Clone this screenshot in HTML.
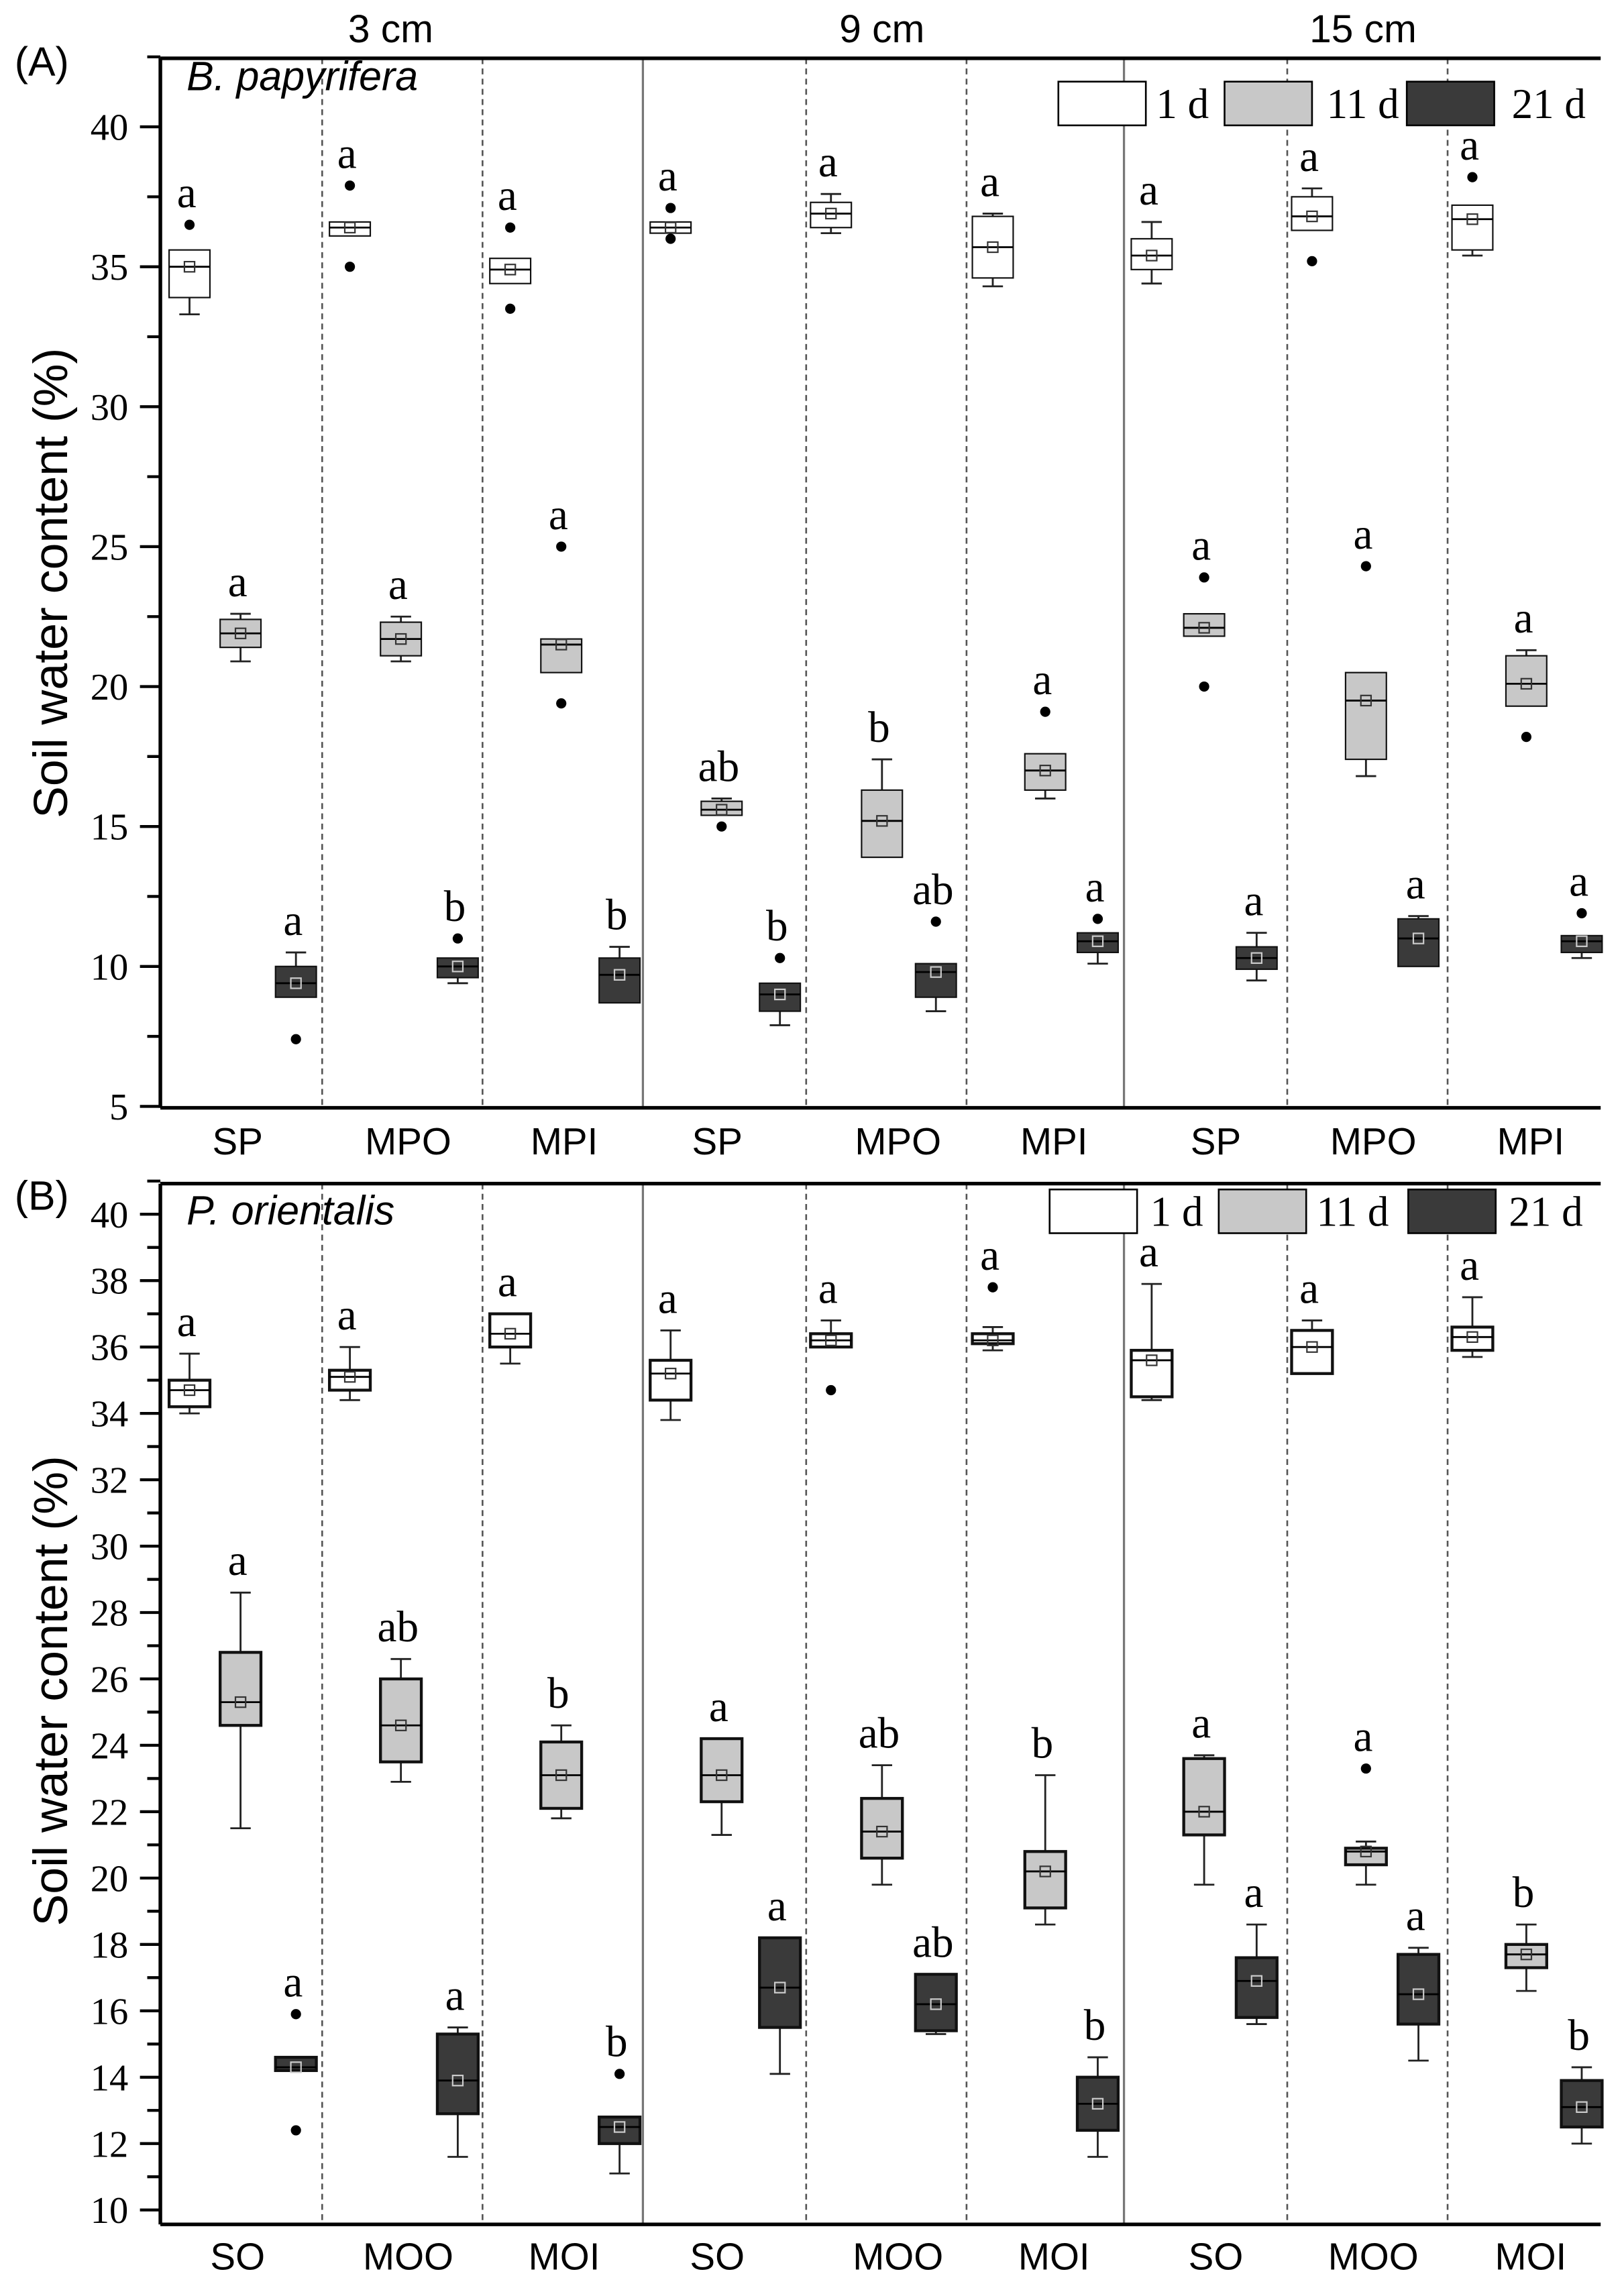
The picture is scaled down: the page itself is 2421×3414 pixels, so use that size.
<!DOCTYPE html>
<html><head><meta charset="utf-8"><style>
html,body{margin:0;padding:0;background:#fff}
svg{display:block}
</style></head><body>
<svg id="s" width="2421" height="3414" viewBox="0 0 1114 1571" preserveAspectRatio="none" xmlns="http://www.w3.org/2000/svg"></svg>
<script>
const S=document.getElementById('s');let h='';
const W='#ffffff',G='#c8c8c8',D='#3a3a3a';
function T(x,y,t,o){h+=`<text x="${x}" y="${y}" ${o||''}>${t}</text>`;}
function L(x1,y1,x2,y2,o){h+=`<line x1="${x1}" y1="${y1}" x2="${x2}" y2="${y2}" ${o||'stroke="#000" stroke-width="1"'}/>`;}
function panel(P){
 const Y=v=>P.y0+(P.vtop-v)*P.k;
 [221,331,553,663,883,993].forEach(x=>L(x,P.top,x,P.bot,'stroke="#555" stroke-width="1.2" stroke-dasharray="4,3"'));
 [441,771].forEach(x=>L(x,P.top,x,P.bot,'stroke="#777" stroke-width="1.5"'));
 L(110,P.top,1098,P.top,'stroke="#000" stroke-width="2.5"');
 L(110,P.top,110,P.bot,'stroke="#000" stroke-width="2.5"');
 L(110,P.bot,1098,P.bot,'stroke="#000" stroke-width="2.5"');
 for(let v=P.vmin;v<=P.vmax+0.01;v+=P.minor){const y=Y(v);const maj=Math.abs((v-P.vmin)/P.major-Math.round((v-P.vmin)/P.major))<1e-6;
  L(maj?96:101,y,110,y,'stroke="#000" stroke-width="2"');
  if(maj)T(88,y+9,v,'font-family="Liberation Serif,serif" font-size="26" text-anchor="end"');}
 P.data.forEach(d=>{const [x,c,q1,q3,m,wl,wh,outs,let_]=d;const w=28;
  let top=Y(q3);
  if(wl!=null){L(x,Y(q1),x,Y(wl),'stroke="#222" stroke-width="1.3"');L(x-7,Y(wl),x+7,Y(wl),'stroke="#222" stroke-width="1.3"');}
  if(wh!=null){L(x,Y(q3),x,Y(wh),'stroke="#222" stroke-width="1.3"');L(x-7,Y(wh),x+7,Y(wh),'stroke="#222" stroke-width="1.3"');top=Math.min(top,Y(wh));}
  h+=`<rect x="${x-w/2}" y="${Y(q3)}" width="${w}" height="${Y(q1)-Y(q3)}" fill="${c}" stroke="#111" stroke-width="${P.sw}"/>`;
  L(x-w/2,Y(m),x+w/2,Y(m),'stroke="#000" stroke-width="1.3"');
  h+=`<rect x="${x-3.5}" y="${Y(m)-3.5}" width="7" height="7" fill="none" stroke="${c==D?'#ccc':'#333'}" stroke-width="1"/>`;
  (outs||[]).forEach(o=>{h+=`<circle cx="${x}" cy="${Y(o)}" r="3.5" fill="#000"/>`;top=Math.min(top,Y(o));});
  T(x-2,top-12,let_,'font-family="Liberation Serif,serif" font-size="30" text-anchor="middle"');
 });
 P.xl.forEach((t,i)=>T([163,280,387,492,616,723,834,942,1050][i],P.xly,t,'font-family="Liberation Sans,sans-serif" font-size="26" text-anchor="middle"'));
 T(10,P.ly,P.lab,'font-family="Liberation Sans,sans-serif" font-size="28"');
 T(128,P.ly+10,P.sp,'font-family="Liberation Sans,sans-serif" font-size="28" font-style="italic"');
 const lg=P.leg;[[W,'1 d'],[G,'11 d'],[D,'21 d']].forEach((e,i)=>{const [bx,tx]=lg.x[i];
  h+=`<rect x="${bx}" y="${lg.y}" width="60" height="${lg.h}" fill="${e[0]}" stroke="#000" stroke-width="1.2"/>`;
  T(tx,lg.y+lg.h-5,e[1],'font-family="Liberation Serif,serif" font-size="29"');});
 h+=`<text transform="translate(${46},${P.yt}) rotate(-90)" text-anchor="middle" font-family="Liberation Sans,sans-serif" font-size="33">Soil water content (%)</text>`;
}
panel({top:40,bot:760,y0:87,vtop:40,k:19.2,vmin:5,vmax:42.5,minor:2.5,major:5,sw:1,xly:792,ly:52,lab:'(A)',sp:'B. papyrifera',yt:400,
 xl:['SP','MPO','MPI','SP','MPO','MPI','SP','MPO','MPI'],
 leg:{y:56,h:30,x:[[726,793],[840,910],[965,1037]]},
 data:[
 [130,W,33.9,35.6,35,33.3,null,[36.5],'a'],[165,G,21.4,22.4,21.9,20.9,22.6,[],'a'],[203,D,8.9,10.0,9.4,null,10.5,[7.4],'a'],
 [240,W,36.1,36.6,36.4,null,null,[37.9,35],'a'],[275,G,21.1,22.3,21.7,20.9,22.5,[],'a'],[314,D,9.6,10.3,10,9.4,null,[11],'b'],
 [350,W,34.4,35.3,34.9,null,null,[36.4,33.5],'a'],[385,G,20.5,21.7,21.5,null,null,[25,19.4],'a'],[425,D,8.7,10.3,9.7,null,10.7,[],'b'],
 [460,W,36.2,36.6,36.4,null,null,[37.1,36.0],'a'],[495,G,15.4,15.9,15.6,null,16,[15],'ab'],[535,D,8.4,9.4,9.0,7.9,null,[10.3],'b'],
 [570,W,36.4,37.3,36.9,36.2,37.6,[],'a'],[605,G,13.9,16.3,15.2,null,17.4,[],'b'],[642,D,8.9,10.1,9.8,8.4,null,[11.6],'ab'],
 [681,W,34.6,36.8,35.7,34.3,36.9,[],'a'],[717,G,16.3,17.6,17.0,16.0,null,[19.1],'a'],[753,D,10.5,11.2,10.9,10.1,null,[11.7],'a'],
 [790,W,34.9,36.0,35.4,34.4,36.6,[],'a'],[826,G,21.8,22.6,22.1,null,null,[23.9,20],'a'],[862,D,9.9,10.7,10.3,9.5,11.2,[],'a'],
 [900,W,36.3,37.5,36.8,null,37.8,[35.2],'a'],[937,G,17.4,20.5,19.5,16.8,null,[24.3],'a'],[973,D,10.0,11.7,11.0,null,11.8,[],'a'],
 [1010,W,35.6,37.2,36.7,35.4,null,[38.2],'a'],[1047,G,19.3,21.1,20.1,null,21.3,[18.2],'a'],[1085,D,10.5,11.1,10.9,10.3,null,[11.9],'a']]});
panel({top:812,bot:1526,y0:833,vtop:40,k:22.77,vmin:10,vmax:41,minor:1,major:2,sw:2,xly:1557,ly:830,lab:'(B)',sp:'P. orientalis',yt:1160,
 xl:['SO','MOO','MOI','SO','MOO','MOI','SO','MOO','MOI'],
 leg:{y:816,h:30,x:[[720,789],[836,903],[966,1035]]},
 data:[
 [130,W,34.2,35.0,34.7,34.0,35.8,[],'a'],[165,G,24.6,26.8,25.3,21.5,28.6,[],'a'],[203,D,14.2,14.6,14.3,null,null,[15.9,12.4],'a'],
 [240,W,34.7,35.3,35.1,34.4,36,[],'a'],[275,G,23.5,26.0,24.6,22.9,26.6,[],'ab'],[314,D,12.9,15.3,13.9,11.6,15.5,[],'a'],
 [350,W,36.0,37.0,36.4,35.5,null,[],'a'],[385,G,22.1,24.1,23.1,21.8,24.6,[],'b'],[425,D,12.0,12.8,12.5,11.1,null,[14.1],'b'],
 [460,W,34.4,35.6,35.2,33.8,36.5,[],'a'],[495,G,22.3,24.2,23.1,21.3,null,[],'a'],[535,D,15.5,18.2,16.7,14.1,null,[],'a'],
 [570,W,36.0,36.4,36.2,null,36.8,[34.7],'a'],[605,G,20.6,22.4,21.4,19.8,23.4,[],'ab'],[642,D,15.4,17.1,16.2,15.3,null,[],'ab'],
 [681,W,36.1,36.4,36.2,35.9,36.6,[37.8],'a'],[717,G,19.1,20.8,20.2,18.6,23.1,[],'b'],[753,D,12.4,14.0,13.2,11.6,14.6,[],'b'],
 [790,W,34.5,35.9,35.6,34.4,37.9,[],'a'],[826,G,21.3,23.6,22.0,19.8,23.7,[],'a'],[862,D,15.8,17.6,16.9,15.6,18.6,[],'a'],
 [900,W,35.2,36.5,36.0,null,36.8,[],'a'],[937,G,20.4,20.9,20.8,19.8,21.1,[23.3],'a'],[973,D,15.6,17.7,16.5,14.5,17.9,[],'a'],
 [1010,W,35.9,36.6,36.3,35.7,37.5,[],'a'],[1047,G,17.3,18.0,17.7,16.6,18.6,[],'b'],[1085,D,12.5,13.9,13.1,12.0,14.3,[],'b']]});
[['3 cm',268],['9 cm',605],['15 cm',935]].forEach(e=>T(e[1],29,e[0],'font-family="Liberation Sans,sans-serif" font-size="27" text-anchor="middle"'));
S.innerHTML=h;
</script>
</body></html>
